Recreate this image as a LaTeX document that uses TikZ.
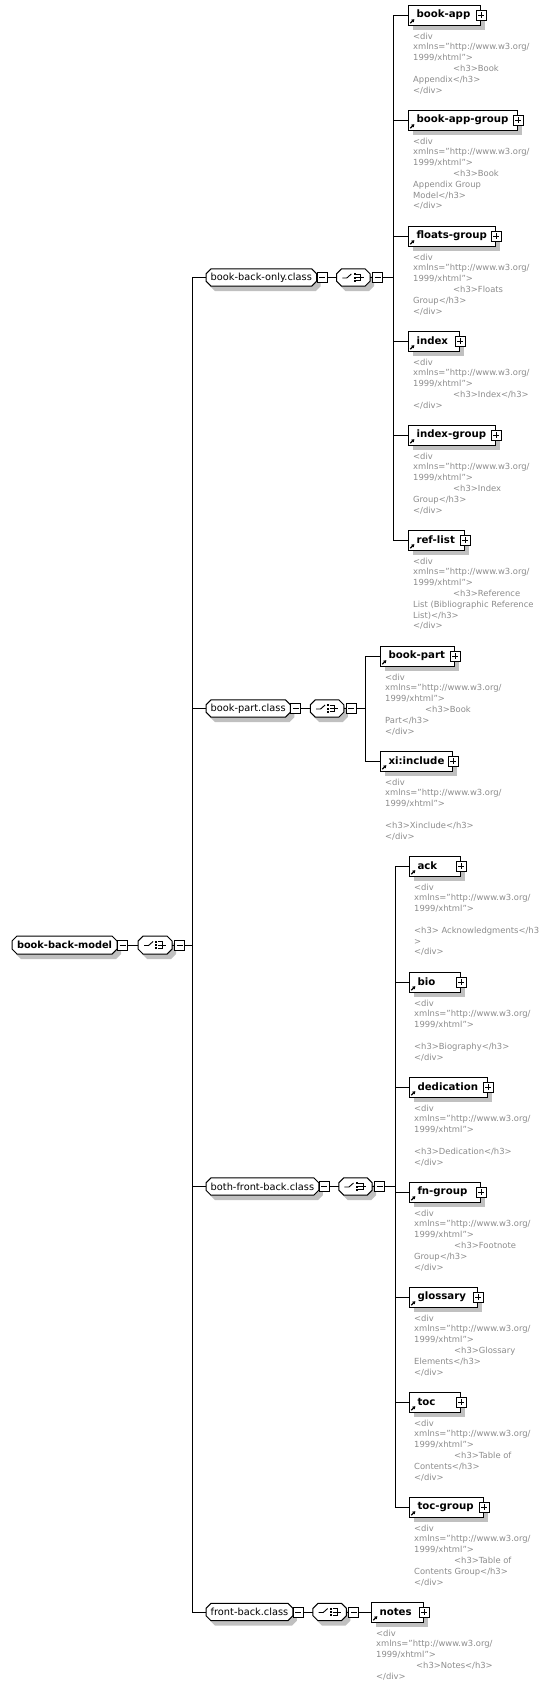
\documentclass[tikz,border=0pt]{standalone}
\usepackage{fontspec}
\setmainfont{DejaVu Sans}
\usetikzlibrary{positioning, shadows, arrows.meta}
\definecolor{docgray}{RGB}{140,140,140}
\definecolor{shadowgray}{RGB}{192,192,192}
\pgfdeclarelayer{background}
\pgfsetlayers{background,main}
\exhyphenpenalty=10000
\hyphenpenalty=10000
\newcommand{\xhtmlopen}{<div\\xmlns="http://www.w3.org/\\1999/xhtml">\\}
\newcommand{\hthree}{\hspace*{40pt}}
% cut-corner outline round a named node
\newcommand{\octopath}[1]{([xshift=5pt]#1.north west) -- ([xshift=-5pt]#1.north east)
  -- ([yshift=-5pt]#1.north east) -- ([yshift=5pt]#1.south east)
  -- ([xshift=-5pt]#1.south east) -- ([xshift=5pt]#1.south west)
  -- ([yshift=5pt]#1.south west) -- ([yshift=-5pt]#1.north west) -- cycle}
\newcommand{\octo}[1]{%
  \begin{pgfonlayer}{background}
    \fill[shadowgray, transform canvas={xshift=4pt, yshift=-5pt}] \octopath{#1};
    \fill[white] \octopath{#1};
  \end{pgfonlayer}
  \draw[line width=1pt] \octopath{#1};}
% choice symbol inside a compositor node
\newcommand{\choiceicon}[1]{%
  \octo{#1}
  \draw[line width=0.9pt] ([xshift=-11pt,yshift=-0.5pt]#1.center) -- ([xshift=-6.5pt,yshift=-0.5pt]#1.center)
    -- ([xshift=-2pt,yshift=3.5pt]#1.center);
  \foreach \dy in {4.3,1,-2.3}
    \fill ([xshift=0.3pt,yshift=\dy pt]#1.center) rectangle ([xshift=2.3pt,yshift=\dy pt-2pt]#1.center);
  \draw[line width=0.8pt] ([xshift=3pt,yshift=3.3pt]#1.center) -- ([xshift=7.5pt,yshift=3.3pt]#1.center)
    -- ([xshift=7.5pt,yshift=-3.3pt]#1.center) -- ([xshift=3pt,yshift=-3.3pt]#1.center);
  \draw[line width=0.8pt] ([xshift=3pt]#1.center) -- ([xshift=11pt]#1.center);}
\tikzset{
  shadowed/.style={drop shadow={shadow xshift=4pt, shadow yshift=-5pt, fill=shadowgray, opacity=1}},
  elem/.style={draw, fill=white, line width=1pt, shadowed, anchor=west,
    minimum height=20pt, inner xsep=8pt, inner ysep=0pt, align=left,
    font=\fontsize{10.2}{12}\selectfont\bfseries,
    path picture={\draw[line width=1.1pt, -{Triangle[length=2.6pt,width=3.4pt]}]
      ([xshift=1.8pt,yshift=1.8pt]path picture bounding box.south west) -- ++(4pt,4pt);}},
  grp/.style={anchor=west, minimum height=17pt, inner xsep=4.5pt, inner ysep=0pt,
    font=\fontsize{9.8}{12}\selectfont},
  choicebox/.style={minimum width=33pt, minimum height=17pt, inner sep=0pt},
  collapse/.style={draw, fill=white, line width=1pt, minimum size=10pt, inner sep=0pt,
    path picture={\draw[line width=1pt] ([xshift=2pt]path picture bounding box.west)
      -- ([xshift=-2pt]path picture bounding box.east);}},
  expand/.style={collapse,
    path picture={\draw[line width=1pt] ([xshift=2pt]path picture bounding box.west)
      -- ([xshift=-2pt]path picture bounding box.east);
      \draw[line width=1pt] ([yshift=-2pt]path picture bounding box.north)
      -- ([yshift=2pt]path picture bounding box.south);}},
  doc/.style={anchor=north west, align=left, inner sep=0pt, text=docgray,
    font=\fontsize{8.4}{10.8}\selectfont}
}
\begin{document}
\begin{tikzpicture}[x=1pt, y=-1pt, line width=1pt]
\useasboundingbox (0,0) rectangle (544,1689);

% root with its choice
\node[grp, font=\fontsize{9.8}{12}\selectfont\bfseries] (root) at (12,945) {book-back-model};
\node[collapse, right=0pt of root] (root-m1) {};
\node[choicebox, right=10pt of root-m1] (root-c) {};
\node[collapse, right=2pt of root-c] (root-m2) {};
\octo{root}
\choiceicon{root-c}
\coordinate (root-bus) at (192,945);
\draw (root-m1) -- (root-c);
\draw (root-c) -- (root-m2);
\draw (root-m2) -- (root-bus);

% book-back-only.class
\node[grp] (bbo) at (206,277.5) {book-back-only.class};
\node[collapse, right=0pt of bbo] (bbo-m1) {};
\node[choicebox, right=9pt of bbo-m1] (bbo-c) {};
\node[collapse, right=2pt of bbo-c] (bbo-m2) {};
\octo{bbo}
\choiceicon{bbo-c}
\coordinate (bbo-bus) at (393,277.5);
\draw (bbo-m1) -- (bbo-c);
\draw (bbo-c) -- (bbo-m2);
\draw (bbo-m2) -- (bbo-bus);

\node[elem, text width=56pt] (bookapp) at (408,15) {book-app};
\node[doc] (bookapp-doc) at (413,32.5) {\xhtmlopen\hthree<h3>Book\\Appendix</h3>\\</div>};
\node[elem, text width=93pt] (bookappgroup) at (408,120) {book-app-group};
\node[doc] (bookappgroup-doc) at (413,137.5) {\xhtmlopen\hthree<h3>Book\\Appendix Group\\Model</h3>\\</div>};
\node[elem, text width=71pt] (floatsgroup) at (408,236) {floats-group};
\node[doc] (floatsgroup-doc) at (413,253.5) {\xhtmlopen\hthree<h3>Floats\\Group</h3>\\</div>};
\node[elem, text width=35pt] (index) at (408,341) {index};
\node[doc] (index-doc) at (413,358.5) {\xhtmlopen\hthree<h3>Index</h3>\\</div>};
\node[elem, text width=71pt] (indexgroup) at (408,435) {index-group};
\node[doc] (indexgroup-doc) at (413,452.5) {\xhtmlopen\hthree<h3>Index\\Group</h3>\\</div>};
\node[elem, text width=40pt] (reflist) at (408,540) {ref-list};
\node[doc] (reflist-doc) at (413,557.5) {\xhtmlopen\hthree<h3>Reference\\List (Bibliographic Reference\\List)</h3>\\</div>};
\foreach \e in {bookapp,bookappgroup,floatsgroup,index,indexgroup,reflist} {
  \node[expand] (\e-x) at (\e.east) {};
  \draw (\e.west) -| (bbo-bus);
}

% book-part.class
\node[grp] (bp) at (206,708.5) {book-part.class};
\node[collapse, right=0pt of bp] (bp-m1) {};
\node[choicebox, right=9pt of bp-m1] (bp-c) {};
\node[collapse, right=2pt of bp-c] (bp-m2) {};
\octo{bp}
\choiceicon{bp-c}
\coordinate (bp-bus) at (365,708.5);
\draw (bp-m1) -- (bp-c);
\draw (bp-c) -- (bp-m2);
\draw (bp-m2) -- (bp-bus);

\node[elem, text width=58pt] (bookpart) at (380,656) {book-part};
\node[doc] (bookpart-doc) at (385,673.5) {\xhtmlopen\hthree<h3>Book\\Part</h3>\\</div>};
\node[elem, text width=56pt] (xiinclude) at (380,761) {xi:include};
\node[doc] (xiinclude-doc) at (385,778.5) {\xhtmlopen\mbox{}\\<h3>Xinclude</h3>\\</div>};
\foreach \e in {bookpart,xiinclude} {
  \node[expand] (\e-x) at (\e.east) {};
  \draw (\e.west) -| (bp-bus);
}

% both-front-back.class
\node[grp] (bfb) at (206,1186.5) {both-front-back.class};
\node[collapse, right=0pt of bfb] (bfb-m1) {};
\node[choicebox, right=9pt of bfb-m1] (bfb-c) {};
\node[collapse, right=2pt of bfb-c] (bfb-m2) {};
\octo{bfb}
\choiceicon{bfb-c}
\coordinate (bfb-bus) at (395,1186.5);
\draw (bfb-m1) -- (bfb-c);
\draw (bfb-c) -- (bfb-m2);
\draw (bfb-m2) -- (bfb-bus);

\node[elem, text width=35pt] (ack) at (409,866) {ack};
\node[doc] (ack-doc) at (414,883.5) {\xhtmlopen\mbox{}\\<h3> Acknowledgments</h3\\>\\</div>};
\node[elem, text width=35pt] (bio) at (409,982) {bio};
\node[doc] (bio-doc) at (414,999.5) {\xhtmlopen\mbox{}\\<h3>Biography</h3>\\</div>};
\node[elem, text width=62pt] (dedication) at (409,1087) {dedication};
\node[doc] (dedication-doc) at (414,1104.5) {\xhtmlopen\mbox{}\\<h3>Dedication</h3>\\</div>};
\node[elem, text width=55pt] (fngroup) at (409,1192) {fn-group};
\node[doc] (fngroup-doc) at (414,1209.5) {\xhtmlopen\hthree<h3>Footnote\\Group</h3>\\</div>};
\node[elem, text width=52pt] (glossary) at (409,1297) {glossary};
\node[doc] (glossary-doc) at (414,1314.5) {\xhtmlopen\hthree<h3>Glossary\\Elements</h3>\\</div>};
\node[elem, text width=35pt] (toc) at (409,1402) {toc};
\node[doc] (toc-doc) at (414,1419.5) {\xhtmlopen\hthree<h3>Table of\\Contents</h3>\\</div>};
\node[elem, text width=58pt] (tocgroup) at (409,1507) {toc-group};
\node[doc] (tocgroup-doc) at (414,1524.5) {\xhtmlopen\hthree<h3>Table of\\Contents Group</h3>\\</div>};
\foreach \e in {ack,bio,dedication,fngroup,glossary,toc,tocgroup} {
  \node[expand] (\e-x) at (\e.east) {};
  \draw (\e.west) -| (bfb-bus);
}

% front-back.class
\node[grp] (fb) at (206,1612) {front-back.class};
\node[collapse, right=0pt of fb] (fb-m1) {};
\node[choicebox, right=9pt of fb-m1] (fb-c) {};
\node[collapse, right=2pt of fb-c] (fb-m2) {};
\octo{fb}
\choiceicon{fb-c}
\draw (fb-m1) -- (fb-c);
\draw (fb-c) -- (fb-m2);

\node[elem, text width=36pt] (notes) at (371,1612) {notes};
\node[doc] (notes-doc) at (376,1629.5) {\xhtmlopen\hthree<h3>Notes</h3>\\</div>};
\node[expand] (notes-x) at (notes.east) {};
\draw (fb-m2) -- (notes);

% class nodes to the root bus
\foreach \g in {bbo,bp,bfb,fb}
  \draw (\g.west) -| (root-bus);
\end{tikzpicture}
\end{document}
